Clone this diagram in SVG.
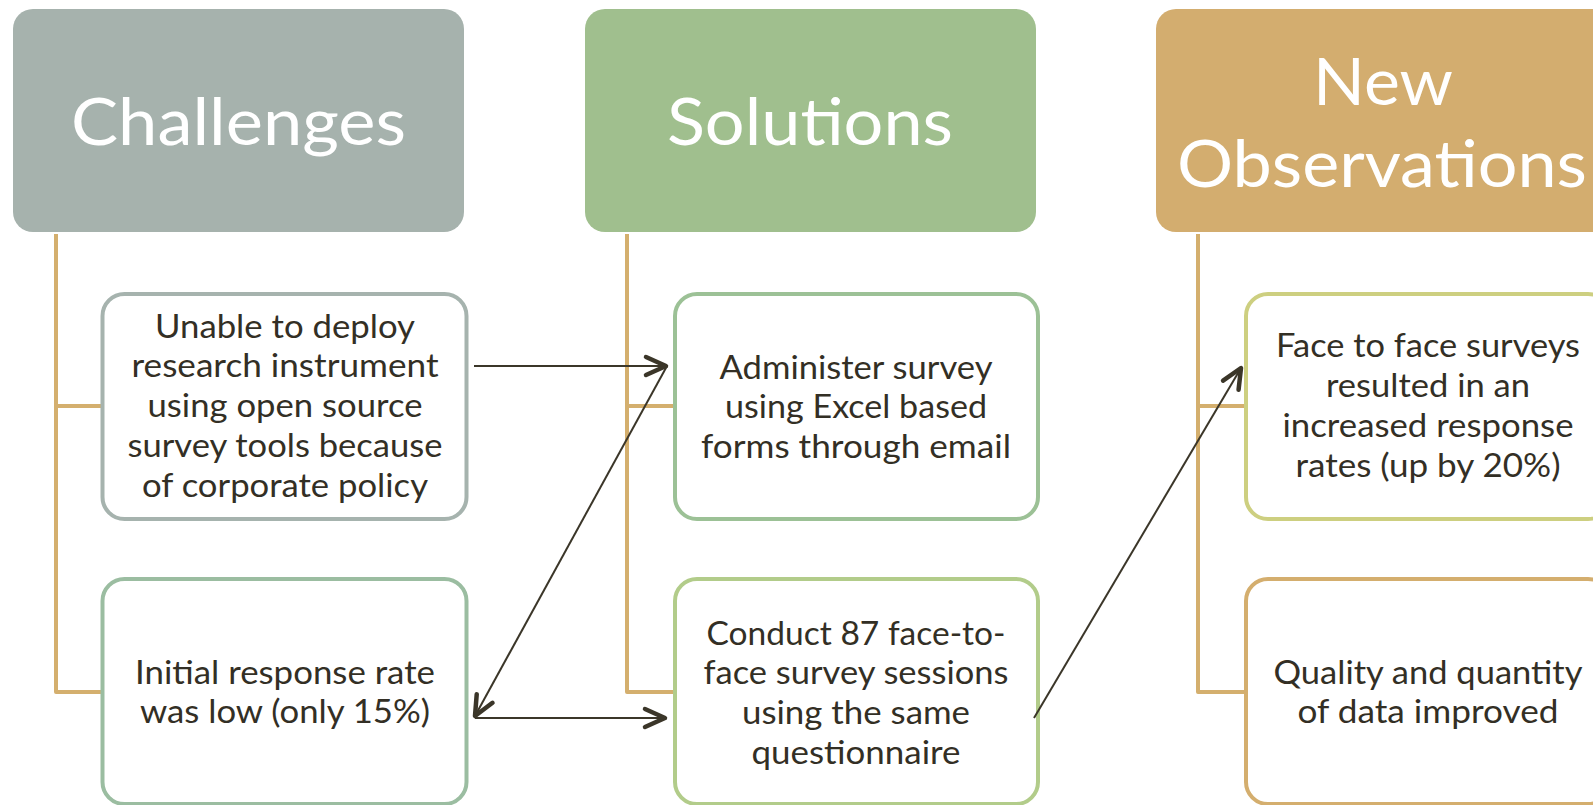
<svg xmlns="http://www.w3.org/2000/svg" width="1593" height="805" viewBox="0 0 1593 805">
<defs>
<style>
.hdr{font-family:Lato,"Open Sans","Liberation Sans",sans-serif;font-size:65px;fill:#ffffff;text-anchor:middle}
.txt{font-family:Lato,"Open Sans","Liberation Sans",sans-serif;font-size:32px;fill:#332f25;text-anchor:middle}
.box{fill:#ffffff;stroke-width:4}
.spine{fill:none;stroke:#d4af6e;stroke-width:4;stroke-linejoin:round}
.arr{fill:none;stroke:#3b3629;stroke-width:2;marker-end:url(#ah)}
</style>
<marker id="ah" markerUnits="userSpaceOnUse" markerWidth="30" markerHeight="30" viewBox="-26 -15 30 30" refX="0" refY="0" orient="auto">
<path d="M-20,-9 L0,0 L-20,9" fill="none" stroke="#3b3629" stroke-width="4.5" stroke-linecap="round" stroke-linejoin="round"/>
</marker>
</defs>
<rect width="1593" height="805" fill="#ffffff"/>

<g id="spines">
<path class="spine" d="M56,234 V692 H101 M56,406 H101"/>
<path class="spine" d="M627,234 V692 H673 M627,406 H673"/>
<path class="spine" d="M1198,234 V692 H1245 M1198,406 H1245"/>
</g>

<g id="challenges">
<rect x="13" y="9" width="451" height="223" rx="20" fill="#a6b2ad"/>
<text class="hdr" x="238.5" y="145" textLength="335" lengthAdjust="spacingAndGlyphs">Challenges</text>
</g>
<g id="solutions">
<rect x="585" y="9" width="451" height="223" rx="20" fill="#a0bf8e"/>
<text class="hdr" x="810" y="145" textLength="286" lengthAdjust="spacingAndGlyphs">Solutions</text>
</g>
<g id="observations">
<rect x="1156" y="9" width="460" height="223" rx="20" fill="#d3ad6f"/>
<text class="hdr" x="1383" y="105" textLength="140" lengthAdjust="spacingAndGlyphs">New</text>
<text class="hdr" x="1382" y="187" textLength="410" lengthAdjust="spacingAndGlyphs">Observations</text>
</g>

<g id="c1">
<rect class="box" x="102.5" y="294" width="364" height="225" rx="22" stroke="#a6b3ae"/>
<text class="txt" x="285" y="338" textLength="260" lengthAdjust="spacingAndGlyphs">Unable to deploy</text>
<text class="txt" x="285" y="377" textLength="307" lengthAdjust="spacingAndGlyphs">research instrument</text>
<text class="txt" x="285" y="417" textLength="275" lengthAdjust="spacingAndGlyphs">using open source</text>
<text class="txt" x="285" y="457" textLength="315" lengthAdjust="spacingAndGlyphs">survey tools because</text>
<text class="txt" x="285" y="497" textLength="286" lengthAdjust="spacingAndGlyphs">of corporate policy</text>
</g>
<g id="c2">
<rect class="box" x="102.5" y="579" width="364" height="225" rx="22" stroke="#9bbda1"/>
<text class="txt" x="285" y="684" textLength="300" lengthAdjust="spacingAndGlyphs">Initial response rate</text>
<text class="txt" x="285" y="723" textLength="290" lengthAdjust="spacingAndGlyphs">was low (only 15%)</text>
</g>
<g id="s1">
<rect class="box" x="675" y="294" width="363" height="225" rx="22" stroke="#9cc196"/>
<text class="txt" x="856" y="379" textLength="273" lengthAdjust="spacingAndGlyphs">Administer survey</text>
<text class="txt" x="856" y="418" textLength="262" lengthAdjust="spacingAndGlyphs">using Excel based</text>
<text class="txt" x="856" y="458" textLength="310" lengthAdjust="spacingAndGlyphs">forms through email</text>
</g>
<g id="s2">
<rect class="box" x="675" y="579" width="363" height="225" rx="22" stroke="#b2cc8a"/>
<text class="txt" x="856" y="645" textLength="299" lengthAdjust="spacingAndGlyphs">Conduct 87 face-to-</text>
<text class="txt" x="856" y="684" textLength="305" lengthAdjust="spacingAndGlyphs">face survey sessions</text>
<text class="txt" x="856" y="724" textLength="228" lengthAdjust="spacingAndGlyphs">using the same</text>
<text class="txt" x="856" y="764" textLength="209" lengthAdjust="spacingAndGlyphs">questionnaire</text>
</g>
<g id="n1">
<rect class="box" x="1246" y="294" width="364" height="225" rx="22" stroke="#cdcf80"/>
<text class="txt" x="1428" y="357" textLength="304" lengthAdjust="spacingAndGlyphs">Face to face surveys</text>
<text class="txt" x="1428" y="397" textLength="204" lengthAdjust="spacingAndGlyphs">resulted in an</text>
<text class="txt" x="1428" y="437" textLength="291" lengthAdjust="spacingAndGlyphs">increased response</text>
<text class="txt" x="1428" y="477" textLength="265" lengthAdjust="spacingAndGlyphs">rates (up by 20%)</text>
</g>
<g id="n2">
<rect class="box" x="1246" y="579" width="364" height="225" rx="22" stroke="#d4ae6e"/>
<text class="txt" x="1428" y="684" textLength="309" lengthAdjust="spacingAndGlyphs">Quality and quantity</text>
<text class="txt" x="1428" y="723" textLength="261" lengthAdjust="spacingAndGlyphs">of data improved</text>
</g>

<g id="connectors">
<line class="arr" x1="474" y1="366" x2="666" y2="366"/>
<line class="arr" x1="667" y1="366" x2="475" y2="716"/>
<line class="arr" x1="475" y1="718" x2="665" y2="718"/>
<line class="arr" x1="1034" y1="718" x2="1241" y2="368"/>
</g>
</svg>
